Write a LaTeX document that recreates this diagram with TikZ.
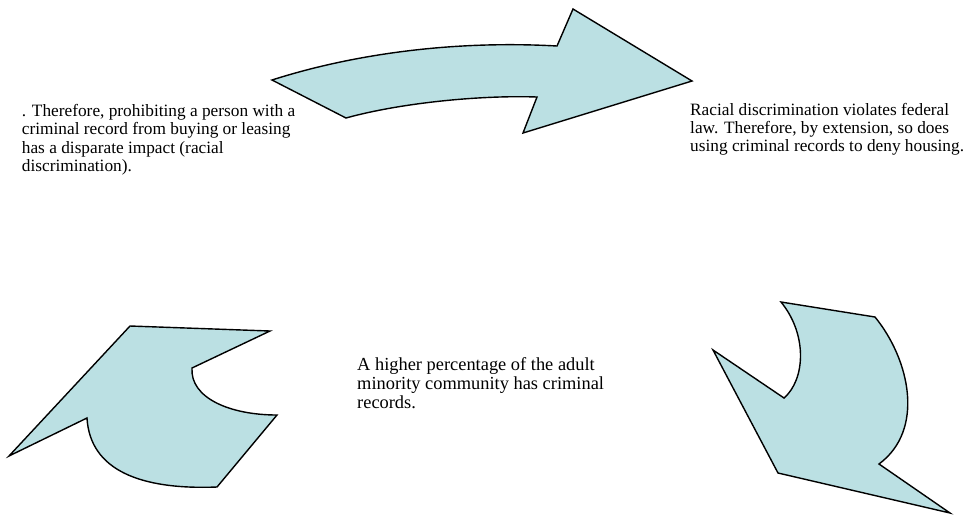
\documentclass[tikz,border=0pt]{standalone}
\usepackage{fontspec}
\setmainfont{Liberation Serif}
\definecolor{arrowfill}{RGB}{187,224,227}
\begin{document}
\begin{tikzpicture}[x=1pt,y=-1pt,
  bigarrow/.style={draw=black,fill=arrowfill,line width=1.4pt,line join=miter},
  note/.style={inner sep=0pt,align=left,anchor=base west,
    font=\fontsize{17.3}{18.3}\selectfont},
  bignote/.style={note,font=\fontsize{18.4}{19.4}\selectfont}]
\useasboundingbox (0,0) rectangle (964,515);
% top arrow
\path[bigarrow] (272,80) .. controls (350,55) and (450,40) .. (557,46)
  -- (573,9) -- (692,81) -- (523,133) -- (537,97)
  .. controls (480,95) and (400,103) .. (346,118) -- cycle;
% bottom-left arrow
\path[bigarrow] (130,326) -- (270,331) -- (192,368)
  .. controls (190,398) and (230,415) .. (277,415)
  -- (217,487) .. controls (140,490) and (90,470) .. (87,418)
  -- (9,456) -- cycle;
% bottom-right arrow
\path[bigarrow] (781,302) -- (875,317)
  .. controls (910,360) and (925,430) .. (879,464)
  -- (950,513) -- (778,473) -- (713,350) -- (784,398)
  .. controls (805,380) and (808,335) .. (781,302) -- cycle;
% texts (base anchor = baseline of last line)
\node[note] (left) at (21.7,171.4) {. Therefore, prohibiting a person with a\\criminal record from buying or leasing\\has a disparate impact (racial\\discrimination).};
\node[note] (right) at (690,151.6) {Racial discrimination violates federal\\law. Therefore, by extension, so does\\using criminal records to deny housing.};
\node[bignote] (center) at (357,408.8) {A higher percentage of the adult\\minority community has criminal\\records.};
\end{tikzpicture}
\end{document}
